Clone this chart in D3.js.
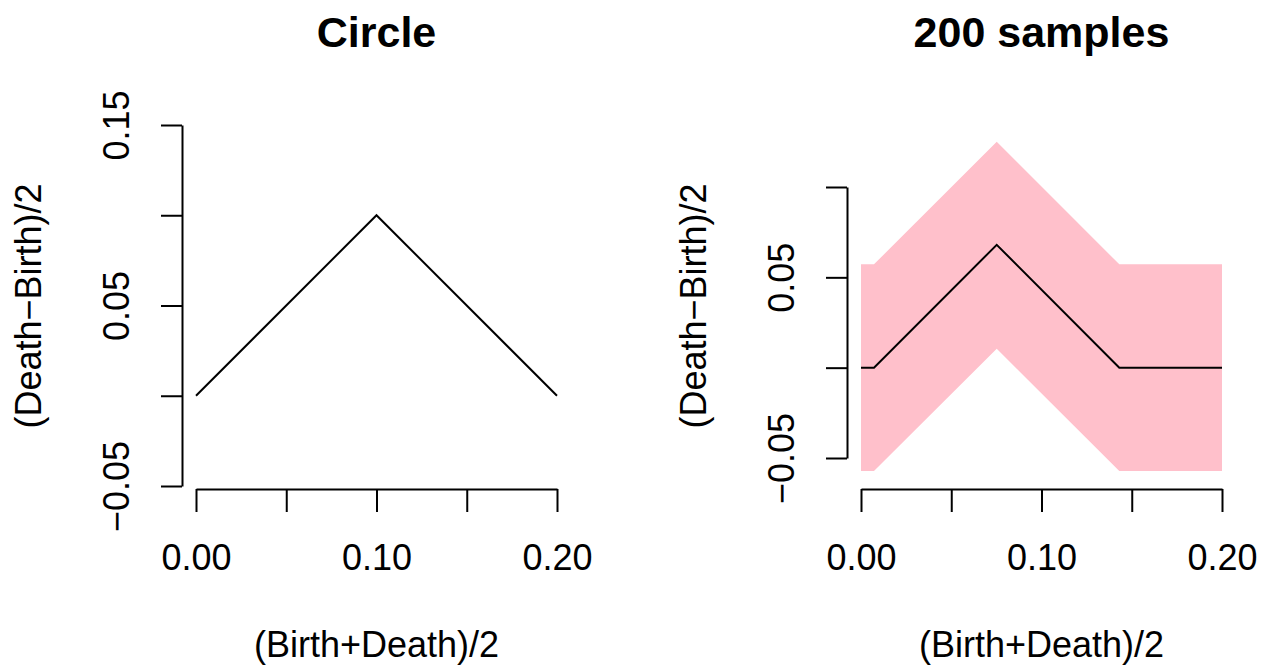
<!DOCTYPE html>
<html>
<head>
<meta charset="utf-8">
<script src="https://cdn.jsdelivr.net/npm/d3@7"></script>
<style>
  body { margin: 0; background: #fff; }
  text { font-family: "Liberation Sans", Arial, Helvetica, sans-serif; fill: #000; }
</style>
</head>
<body>
<div id="chart"></div>
<script>
// left panel: circle landscape
var circleX = [0, 0.1, 0.2];
var circleY = [0, 0.1, 0];

// right panel: mean landscape of 200 samples with band
var sampleX = [0, 0.0072, 0.0752, 0.1431, 0.2];
var sampleMean = [0, 0, 0.068, 0, 0];
var sampleUpper = [0.0572, 0.0572, 0.125, 0.0572, 0.0572];
var sampleLower = [-0.0572, -0.0572, 0.0105, -0.0572, -0.0572];

var xTicks = [0, 0.05, 0.10, 0.15, 0.20];
var xLabels = ["0.00", "", "0.10", "", "0.20"];
var yTicksLeft = [-0.05, 0, 0.05, 0.10, 0.15];
var yLabelsLeft = ["\u22120.05", "", "0.05", "", "0.15"];
var yTicksRight = [-0.05, 0, 0.05, 0.10];
var yLabelsRight = ["\u22120.05", "", "0.05", ""];

var titles = ["Circle", "200 samples"];
var xTitle = "(Birth+Death)/2";
var yTitle = "(Death\u2212Birth)/2";

var width = 1265, height = 670;
var svg = d3.select("#chart").append("svg")
    .attr("width", width)
    .attr("height", height);

function labeler(ticks, labels) {
    return function(d) {
        var i = ticks.findIndex(function(t) { return Math.abs(t - d) < 1e-9; });
        return i >= 0 ? labels[i] : "";
    };
}

function drawPanel(opts) {
    var x = d3.scaleLinear().domain([0, 0.2]).range([opts.x0, opts.x0 + 361]);
    var y = d3.scaleLinear().domain(opts.yDomain).range(opts.yRange);
    var axisY = 489, axisX = opts.x0 - 14;

    // x axis
    var gx = svg.append("g")
        .attr("transform", "translate(0," + axisY + ")")
        .call(d3.axisBottom(x)
            .tickValues(xTicks)
            .tickSize(23)
            .tickSizeOuter(0)
            .tickFormat(labeler(xTicks, xLabels)));
    gx.selectAll("text")
        .attr("y", 81)
        .attr("dy", null)
        .style("font-size", "36px");

    // y axis
    var gy = svg.append("g")
        .attr("transform", "translate(" + axisX + ",0)")
        .call(d3.axisLeft(y)
            .tickValues(opts.yTicks)
            .tickSize(21)
            .tickSizeOuter(0)
            .tickFormat(labeler(opts.yTicks, opts.yLabels)));
    gy.selectAll("text")
        .attr("x", null)
        .attr("dy", null)
        .attr("text-anchor", "middle")
        .attr("transform", "translate(-53,0) rotate(-90)")
        .style("font-size", "36px");

    [gx, gy].forEach(function(g) {
        g.selectAll("path, line").attr("stroke", "#000").attr("stroke-width", 2);
        g.attr("font-family", null).attr("font-size", null);
    });

    // band
    if (opts.upper) {
        var area = d3.area()
            .x(function(d, i) { return x(opts.xs[i]); })
            .y0(function(d, i) { return y(opts.lower[i]); })
            .y1(function(d, i) { return y(opts.upper[i]); });
        svg.append("path")
            .datum(opts.xs)
            .attr("d", area)
            .attr("fill", "#FFC0CB");
    }

    // line
    var line = d3.line()
        .x(function(d, i) { return x(opts.xs[i]); })
        .y(function(d) { return y(d); });
    svg.append("path")
        .datum(opts.ys)
        .attr("d", line)
        .attr("fill", "none")
        .attr("stroke", "#000")
        .attr("stroke-width", 2);

    var cx = opts.x0 + 180.5;
    svg.append("text")
        .attr("x", cx).attr("y", 47)
        .attr("text-anchor", "middle")
        .style("font-size", "43px")
        .style("font-weight", "bold")
        .text(opts.title);

    svg.append("text")
        .attr("x", cx).attr("y", 657)
        .attr("text-anchor", "middle")
        .style("font-size", "36px")
        .text(xTitle);

    svg.append("text")
        .attr("transform", "translate(" + (axisX - 141) + ",306) rotate(-90)")
        .attr("text-anchor", "middle")
        .style("font-size", "36px")
        .text(yTitle);
}

drawPanel({
    x0: 196, title: titles[0],
    yDomain: [-0.05, 0.15], yRange: [486, 125],
    yTicks: yTicksLeft, yLabels: yLabelsLeft,
    xs: circleX, ys: circleY
});

drawPanel({
    x0: 861, title: titles[1],
    yDomain: [-0.05, 0.10], yRange: [458, 187],
    yTicks: yTicksRight, yLabels: yLabelsRight,
    xs: sampleX, ys: sampleMean, upper: sampleUpper, lower: sampleLower
});
</script>
</body>
</html>
